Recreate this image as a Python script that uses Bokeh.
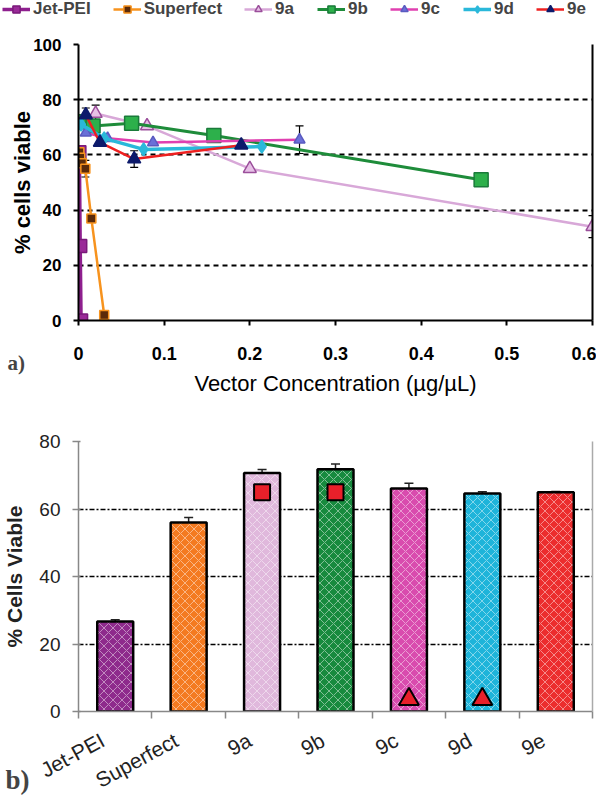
from bokeh.plotting import figure
from bokeh.models import (Range1d, LinearAxis, FixedTicker,
                          ColumnDataSource, Whisker, TeeHead, Legend, LegendItem, Label)
from bokeh.layouts import column, row
from bokeh.embed import file_html
from bokeh.resources import INLINE

# ---------------- panel a) data ----------------
jetpei_x = [0.001, 0.002, 0.003]
jetpei_y = [61, 27, 0]
jetpei_err = [0, 0, 0]

superfect_x = [0.001, 0.002, 0.004, 0.008, 0.015, 0.03]
superfect_y = [61, 59, 57, 55, 37, 2]
superfect_err = [0, 0, 0, 3, 0, 0]

a9_x = [0.02, 0.08, 0.2, 0.6]
a9_y = [75, 70.5, 55, 34]
a9_err = [3, 0, 0, 4]

b9_x = [0.004, 0.017, 0.062, 0.158, 0.47]
b9_y = [72, 70.5, 71.5, 67, 51]
b9_err = [0, 0, 0, 0, 0]

c9_x = [0.0085, 0.034, 0.087, 0.258]
c9_y = [68, 66, 64.5, 65.5]
c9_err = [0, 0, 0, 5]

d9_x = [0.003, 0.03, 0.076, 0.214]
d9_y = [71, 66, 62, 63]
d9_err = [0, 0, 0, 0]

e9_x = [0.0085, 0.025, 0.065, 0.19]
e9_y = [74.5, 64.5, 58.5, 63.5]
e9_err = [2.5, 0, 3, 0]

x_ticks_a = [0, 0.1, 0.2, 0.3, 0.4, 0.5, 0.6]
y_ticks_a = [0, 20, 40, 60, 80, 100]

# ---------------- panel b) data ----------------
categories = ["Jet-PEI", "Superfect", "9a", "9b", "9c", "9d", "9e"]
viable = [26.7, 56.0, 70.7, 71.8, 66.1, 64.6, 65.0]
viable_err = [0.5, 1.5, 1.0, 1.5, 1.5, 0.5, 0.2]
square_cats = ["9a", "9b"]
square_vals = [65, 65]
triangle_cats = ["9c", "9d"]
triangle_vals = [3.6, 3.6]
y_ticks_b = [0, 20, 40, 60, 80]

bar_colors = ["#8E2A8C", "#F47A20", "#E0B8DC", "#178A3E", "#D94BAE", "#1EB4DA", "#EC2C2E"]

SANS = "Liberation Sans"
SERIF = "Liberation Serif"

series = [
    ("Jet-PEI", jetpei_x, jetpei_y, jetpei_err, "#8E1F8E", 3.5, "square", 13, "#9A2A98", "#7A1A7A"),
    ("Superfect", superfect_x, superfect_y, superfect_err, "#F7931E", 2.5, "square", 9, "#5A2A0A", "#F7931E"),
    ("9a", a9_x, a9_y, a9_err, "#D8A8D8", 2.5, "triangle", 13, "#E6C0E6", "#9B4F9B"),
    ("9b", b9_x, b9_y, b9_err, "#1E8C3A", 3, "square", 14, "#2DB04B", "#1A7A3A"),
    ("9c", c9_x, c9_y, c9_err, "#E040B0", 2.5, "triangle", 11, "#6A70D8", "#5A5AC0"),
    ("9d", d9_x, d9_y, d9_err, "#2AB8DA", 3.5, "diamond", 13, "#2AB8DA", "#2AB8DA"),
    ("9e", e9_x, e9_y, e9_err, "#EE2020", 2.5, "triangle", 13, "#0D1A6B", "#0D1A6B"),
]

# ================= legend strip (series drawn out of view, legend only) =================
p0 = figure(width=596, height=20, x_range=Range1d(0, 0.6), y_range=Range1d(200, 300),
            x_axis_location=None, y_axis_location=None, min_border=0,
            output_backend="svg", toolbar_location=None)
p0.grid.visible = False
p0.outline_line_color = None
legend_items = []
for (name, xs, ys, errs, lc, lw, mk, ms, fc, oc) in series:
    lsrc = ColumnDataSource(dict(x=xs, y=ys))
    lr = p0.line("x", "y", source=lsrc, line_color=lc, line_width=lw)
    sr = p0.scatter("x", "y", source=lsrc, marker=mk, size=ms, fill_color=fc, line_color=oc, line_width=1.5)
    legend_items.append(LegendItem(label=name, renderers=[lr, sr]))
p0.add_layout(Legend(items=legend_items, location=(2, 1), orientation="horizontal", ncols=7,
                     border_line_color=None, background_fill_alpha=0,
                     padding=0, margin=0, spacing=22, glyph_width=28, glyph_height=18,
                     label_height=18, label_standoff=3, label_text_font=SANS,
                     label_text_font_style="bold", label_text_font_size="17px"))

# ================= panel a =================
p1 = figure(width=596, height=378, x_range=Range1d(0, 0.6), y_range=Range1d(0, 100),
            output_backend="svg", toolbar_location=None,
            min_border_left=75, min_border_right=4, min_border_top=0, min_border_bottom=78)
p1.outline_line_color = None
p1.xgrid.visible = False
p1.ygrid.ticker = FixedTicker(ticks=[20, 40, 60, 80, 100])
p1.ygrid.grid_line_color = "black"
p1.ygrid.grid_line_dash = "5 4"
p1.ygrid.grid_line_width = 2

p1.xaxis.ticker = FixedTicker(ticks=x_ticks_a)
p1.yaxis.ticker = FixedTicker(ticks=y_ticks_a)
for ax in (p1.xaxis[0], p1.yaxis[0]):
    ax.axis_line_color = "black"
    ax.axis_line_width = 2
    ax.major_tick_line_color = "black"
    ax.major_tick_line_width = 2
    ax.major_tick_out = 5
    ax.major_tick_in = 0
    ax.minor_tick_line_color = None
    ax.major_label_text_font = SANS
    ax.major_label_text_font_style = "bold"
    ax.major_label_text_color = "black"
    ax.axis_label_text_color = "black"
    ax.axis_label_text_font = SANS
p1.xaxis.major_label_standoff = 21
p1.yaxis.major_label_standoff = 12
p1.xaxis.major_label_text_font_size = "18px"
p1.yaxis.major_label_text_font_size = "17px"
p1.xaxis.axis_label = "Vector Concentration (µg/µL)"
p1.xaxis.axis_label_text_font_size = "22px"
p1.xaxis.axis_label_text_font_style = "normal"
p1.xaxis.axis_label_standoff = 8
p1.yaxis.axis_label = "% cells viable"
p1.yaxis.axis_label_text_font_size = "22px"
p1.yaxis.axis_label_text_font_style = "bold"
p1.yaxis.axis_label_standoff = -5

right_a = LinearAxis(ticker=FixedTicker(ticks=[]), axis_line_color="black", axis_line_width=2,
                     major_tick_line_color=None, minor_tick_line_color=None,
                     major_label_text_font_size="0px", major_label_standoff=0)
p1.add_layout(right_a, "right")

for (name, xs, ys, errs, lc, lw, mk, ms, fc, oc) in series:
    src = ColumnDataSource(dict(x=xs, y=ys))
    p1.line("x", "y", source=src, line_color=lc, line_width=lw)
    p1.scatter("x", "y", source=src, marker=mk, size=ms, fill_color=fc, line_color=oc, line_width=1.5)
    esrc = ColumnDataSource(dict(x=[x for x, e in zip(xs, errs) if e > 0],
                                 up=[v + e for v, e in zip(ys, errs) if e > 0],
                                 lo=[v - e for v, e in zip(ys, errs) if e > 0]))
    p1.add_layout(Whisker(base="x", upper="up", lower="lo", source=esrc, line_color="black", line_width=1.2,
                          upper_head=TeeHead(size=8, line_color="black", line_width=1.2),
                          lower_head=TeeHead(size=8, line_color="black", line_width=1.2)))

p1.add_layout(Label(x=7, y=354, x_units="canvas", y_units="canvas", text="a)",
                    text_font=SERIF, text_font_style="bold", text_font_size="21px",
                    text_baseline="bottom", text_line_height=0.4), "above")

# ================= panel b =================
n = len(categories)
slot_center = {c: i + 0.5 for i, c in enumerate(categories)}
label_pos = {c: i + 0.33 for i, c in enumerate(categories)}
bar_x = [slot_center[c] for c in categories]

p2 = figure(width=596, height=406, x_range=Range1d(0, n), y_range=Range1d(0, 80),
            output_backend="svg", toolbar_location=None,
            min_border_left=76, min_border_right=2, min_border_top=43, min_border_bottom=84)
p2.outline_line_color = None
p2.xgrid.visible = False
p2.ygrid.ticker = FixedTicker(ticks=[20, 40, 60, 80])
p2.ygrid.grid_line_color = "black"
p2.ygrid.grid_line_dash = "5 2 2 2"
p2.ygrid.grid_line_width = 1.5

p2.yaxis.ticker = FixedTicker(ticks=y_ticks_b)
yb = p2.yaxis[0]
yb.axis_line_color = "#888888"
yb.axis_line_width = 1.5
yb.major_tick_line_color = "#888888"
yb.major_tick_line_width = 1.5
yb.major_tick_out = 6
yb.major_tick_in = 2
yb.minor_tick_line_color = None
yb.major_label_text_font = SANS
yb.major_label_text_font_size = "19px"
yb.major_label_text_color = "#222222"
yb.major_label_standoff = 12
yb.axis_label = "% Cells Viable"
yb.axis_label_text_font = SANS
yb.axis_label_text_font_size = "21px"
yb.axis_label_text_font_style = "bold"
yb.axis_label_text_color = "#222222"
yb.axis_label_standoff = 10

xb = p2.xaxis[0]
xb.ticker = FixedTicker(ticks=[label_pos[c] for c in categories], minor_ticks=list(range(n + 1)))
xb.major_label_overrides = {label_pos[c]: c for c in categories}
xb.axis_line_color = "#888888"
xb.axis_line_width = 1.5
xb.major_tick_line_color = None
xb.minor_tick_line_color = "#888888"
xb.minor_tick_line_width = 1.5
xb.minor_tick_out = 7
xb.minor_tick_in = 0
xb.major_label_orientation = 0.5
xb.major_label_text_font = SANS
xb.major_label_text_font_size = "21px"
xb.major_label_text_color = "#222222"
xb.major_label_standoff = 20

right_b = LinearAxis(ticker=FixedTicker(ticks=[]), axis_line_color="#AAAAAA", axis_line_width=1.5,
                     major_tick_line_color=None, minor_tick_line_color=None,
                     major_label_text_font_size="0px", major_label_standoff=0)
p2.add_layout(right_b, "right")

bsrc = ColumnDataSource(dict(x=bar_x, val=viable, color=bar_colors,
                             up=[v + e for v, e in zip(viable, viable_err)],
                             lo=[v - e for v, e in zip(viable, viable_err)]))
p2.vbar(x="x", top="val", width=0.49, source=bsrc, fill_color="color", line_color="black",
        line_width=2.5, hatch_pattern="diagonal_cross", hatch_color="white", hatch_alpha=0.45,
        hatch_scale=9, hatch_weight=1)
p2.add_layout(Whisker(base="x", upper="up", lower="lo", source=bsrc, line_color="#222222", line_width=1.5,
                      upper_head=TeeHead(size=9, line_color="#222222", line_width=1.5),
                      lower_head=TeeHead(size=9, line_color="#222222", line_width=1.5)))
p2.scatter(x=[slot_center[c] for c in square_cats], y=square_vals, marker="square", size=16,
           fill_color="#E8202A", line_color="black", line_width=2)
p2.scatter(x=[slot_center[c] for c in triangle_cats], y=triangle_vals, marker="triangle", size=20,
           fill_color="#E8202A", line_color="black", line_width=2)

p2.add_layout(Label(x=5, y=396, x_units="canvas", y_units="canvas", text="b)",
                    text_font=SERIF, text_font_style="bold", text_font_size="27px",
                    text_baseline="bottom", text_line_height=0.4), "above")

layout = column(row(p0), p1, p2, spacing=0)
open("out.html", "w").write(file_html(layout, INLINE))
